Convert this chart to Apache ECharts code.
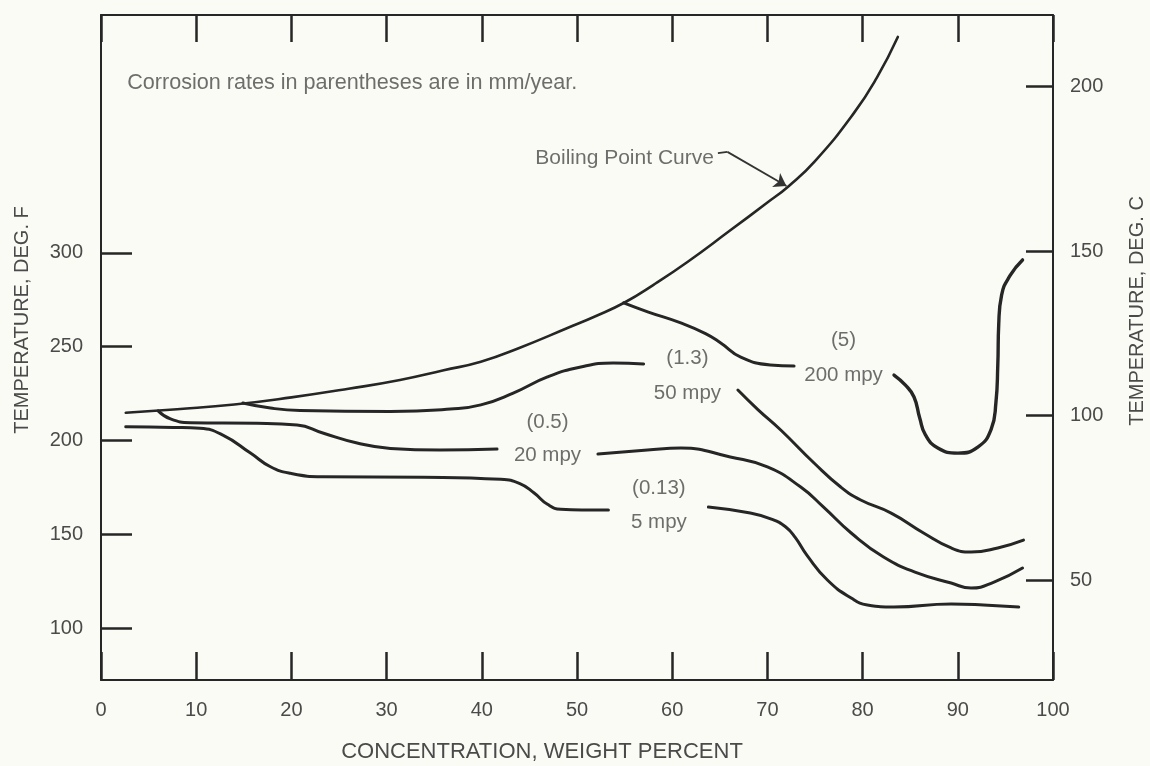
<!DOCTYPE html>
<html>
<head>
<meta charset="utf-8">
<script src="https://cdn.jsdelivr.net/npm/echarts@6/dist/echarts.min.js"></script>
<style>
html,body{margin:0;padding:0;background:#fbfbf6;}
#c{width:1150px;height:766px;}
</style>
</head>
<body>
<div id="c"></div>
<script>
// ---- tick labels ----
const xTicks = [0, 10, 20, 30, 40, 50, 60, 70, 80, 90, 100];
const fTicks = [100, 150, 200, 250, 300];
const cTicks = [50, 100, 150, 200];

// ---- curves: [concentration wt%, temperature deg F] ----
const boiling = [[2.6,214.8],[8.0,216.7],[14.0,219.2],[20.0,223.0],[26.0,227.6],[31.4,232.3],[36.0,237.5],[39.9,242.0],[44.0,249.5],[49.0,260.0],[52.0,266.4],[55.0,273.6],[58.0,282.9],[61.6,295.2],[66.0,311.7],[70.0,326.9],[72.2,335.5],[75.0,349.0],[79.1,374.7],[81.5,393.5],[83.7,415.2]];
const mpy200a = [[54.9,273.4],[57.5,268.5],[60.9,262.7],[63.5,257.0],[65.1,252.0],[67.2,244.5],[70.3,240.3],[72.8,239.7]];
const mpy200b = [[83.3,234.9],[84.5,229.5],[85.4,223.2],[86.0,212.0],[86.6,203.0],[87.9,196.0],[90.0,193.3],[92.1,196.5],[93.5,206.0],[94.0,220.0],[94.2,240.0],[94.3,262.0],[94.6,277.5],[95.5,288.0],[96.8,296.3]];
const mpy50a = [[14.9,220.0],[17.8,217.3],[20.9,216.0],[30.4,215.5],[36.7,216.8],[39.9,219.0],[43.3,225.3],[46.9,233.9],[50.4,239.2],[53.8,241.3],[57.0,240.8]];
const mpy50b = [[66.9,226.9],[69.0,216.5],[71.4,205.6],[74.9,188.0],[77.7,175.2],[79.8,168.3],[83.0,161.3],[86.4,150.7],[89.3,142.7],[91.4,140.5],[94.2,142.7],[96.9,146.9]];
const mpy20a = [[6.0,215.8],[7.3,211.5],[9.4,209.5],[16.4,209.2],[20.6,208.3],[23.3,204.0],[26.9,198.7],[30.4,195.8],[35.6,194.9],[41.6,195.5]];
const mpy20b = [[52.2,192.8],[57.4,194.9],[60.9,196.0],[66.1,191.2],[70.0,185.9],[73.5,175.2],[75.9,164.5],[78.8,150.7],[82.2,137.9],[85.8,129.3],[89.3,124.0],[91.4,121.3],[93.8,124.5],[96.8,132.0]];
const mpy5a = [[2.6,207.4],[7.6,207.0],[10.4,206.5],[12.8,202.9],[15.7,193.3],[17.8,186.0],[19.9,182.5],[23.3,180.7],[33.9,180.4],[42.0,179.3],[44.0,177.0],[45.5,172.0],[46.9,166.0],[48.3,163.3],[50.5,162.9],[53.3,162.9]];
const mpy5b = [[63.8,164.5],[68.2,161.3],[70.5,158.0],[71.9,154.0],[72.9,148.5],[74.2,138.5],[76.3,125.6],[78.8,116.0],[80.5,112.3],[83.3,111.2],[89.3,112.8],[92.7,112.3],[96.4,111.2]];

// ---- annotations ----
const noteText = ['Corrosion rates in parentheses are in mm/year.', 'Boiling Point Curve', '(1.3)', '50 mpy', '(0.5)', '20 mpy', '(0.13)', '5 mpy', '(5)', '200 mpy'];
const noteAt = [[2.75,390.7],[55.0,350.7],[61.6,244.0],[61.6,225.3],[46.9,209.9],[46.9,192.3],[58.6,174.7],[58.6,156.5],[78.0,253.6],[78.0,234.9]];
const arrowStub = [[64.8,353.3],[65.8,353.9]];
const arrowShaft = [[65.8,353.9],[72.0,335.7]];

const FONT = '"Liberation Sans", Arial, sans-serif';
const TXT = '#4a4a4a';
const INK = '#262626';

const chart = echarts.init(document.getElementById('c'), null, {renderer: 'canvas'});

function axisBase(extra) {
  return Object.assign({
    type: 'value',
    splitLine: {show: false},
    axisLine: {show: true, onZero: false, lineStyle: {color: INK, width: 2}},
  }, extra);
}

function curve(data, w) {
  return {
    type: 'line', data: data, xAxisIndex: 0, yAxisIndex: 0,
    smooth: 0.5, showSymbol: false, symbol: 'none', silent: true,
    lineStyle: {color: INK, width: w || 3, cap: 'round', join: 'round'},
    emphasis: {disabled: true}
  };
}

const noteSize = [21.6, 21, 20.5, 20.5, 20.5, 20.5, 20.5, 20.5, 20.5, 20.5];
const notes = noteText.map((t, i) => ({
  name: t, value: noteAt[i],
  label: {align: i === 0 ? 'left' : 'center', fontSize: noteSize[i]}
}));

const option = {
  backgroundColor: '#fbfbf6',
  animation: false,
  grid: {left: 101, right: 97, top: 15, bottom: 86, outerBoundsMode: 'none'},
  xAxis: [
    axisBase({
      min: 0, max: 100, interval: 10, position: 'bottom',
      axisTick: {show: true, inside: true, length: 28, lineStyle: {color: INK, width: 2.5}},
      axisLabel: {show: true, margin: 20, fontSize: 20, color: TXT, fontFamily: FONT,
                  customValues: xTicks}
    }),
    axisBase({
      min: 0, max: 100, interval: 10, position: 'top',
      axisTick: {show: true, inside: true, length: 27, lineStyle: {color: INK, width: 2.5}},
      axisLabel: {show: false}
    })
  ],
  yAxis: [
    axisBase({
      min: 72.3, max: 426.9, position: 'left',
      axisTick: {show: true, inside: true, length: 31, lineStyle: {color: INK, width: 2.5},
                 customValues: fTicks},
      axisLabel: {show: true, margin: 18, fontSize: 20, color: TXT, fontFamily: FONT,
                  customValues: fTicks}
    }),
    axisBase({
      min: 19.6, max: 221.8, position: 'right',
      axisTick: {show: true, inside: true, length: 27, lineStyle: {color: INK, width: 2.5},
                 customValues: cTicks},
      axisLabel: {show: true, margin: 17, fontSize: 20, color: TXT, fontFamily: FONT,
                  customValues: cTicks}
    })
  ],
  graphic: [
    {type: 'text', x: 542, y: 752, silent: true,
     style: {text: 'CONCENTRATION, WEIGHT PERCENT', fill: TXT, fontSize: 22, fontFamily: FONT,
             align: 'center', verticalAlign: 'middle'}},
    {type: 'text', x: 22, y: 320, rotation: Math.PI / 2, silent: true,
     style: {text: 'TEMPERATURE, DEG. F', fill: TXT, fontSize: 20, fontFamily: FONT,
             align: 'center', verticalAlign: 'middle'}},
    {type: 'text', x: 1137, y: 311, rotation: Math.PI / 2, silent: true,
     style: {text: 'TEMPERATURE, DEG. C', fill: TXT, fontSize: 20, fontFamily: FONT,
             align: 'center', verticalAlign: 'middle'}}
  ],
  series: [
    curve(boiling, 2.6),
    curve(mpy200a), curve(mpy200b, 3.4),
    curve(mpy50a), curve(mpy50b),
    curve(mpy20a), curve(mpy20b),
    curve(mpy5a), curve(mpy5b),
    {
      type: 'lines', coordinateSystem: 'cartesian2d', silent: true,
      xAxisIndex: 0, yAxisIndex: 0,
      symbol: ['none', 'none'],
      lineStyle: {color: '#333', width: 1.8, opacity: 1},
      data: [{coords: arrowStub}]
    },
    {
      type: 'lines', coordinateSystem: 'cartesian2d', silent: true,
      xAxisIndex: 0, yAxisIndex: 0,
      symbol: ['none', 'arrow'], symbolSize: 12,
      lineStyle: {color: '#333', width: 1.8, opacity: 1},
      data: [{coords: arrowShaft}]
    },
    {
      type: 'scatter', data: notes, xAxisIndex: 0, yAxisIndex: 0,
      symbolSize: 0, silent: true,
      label: {show: true, position: 'inside', formatter: '{b}', color: TXT, fontSize: 20,
              fontFamily: FONT, verticalAlign: 'middle'},
      emphasis: {disabled: true}
    }
  ]
};
chart.setOption(option);
</script>
</body>
</html>
